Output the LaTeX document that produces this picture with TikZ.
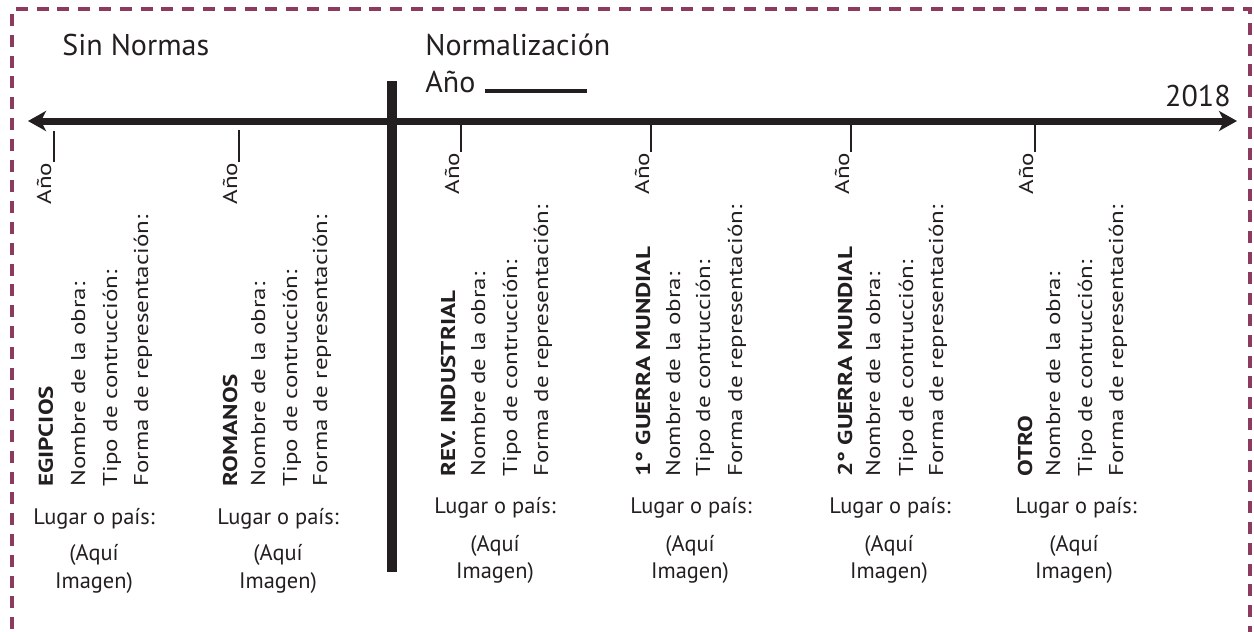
\documentclass[tikz,border=0pt]{standalone}
\usepackage{fontspec}
\setmainfont{PT Sans}
\usetikzlibrary{arrows.meta}
\definecolor{ink}{HTML}{231F20}
\definecolor{frame}{HTML}{8C3B5E}
\begin{document}
\begin{tikzpicture}[x=0.5pt,y=-0.5pt,
  every node/.style={inner sep=0pt,text=ink},
  head/.style={font=\fontsize{15}{18}\selectfont,anchor=base west},
  vtext/.style={rotate=90,xscale=1.25,anchor=base west,font=\fontsize{10}{12}\selectfont},
  vbold/.style={vtext,font=\fontsize{10}{12}\selectfont\bfseries},
  small/.style={font=\fontsize{11.2}{13}\selectfont,anchor=base},
  tick/.style={draw=ink,line width=1.4pt},
  border/.style={draw=frame,line width=1.8pt,dash pattern=on 6pt off 4.4pt},
  timeline/.style={draw=ink,line width=3.5pt,
    {Stealth[length=9pt,width=10pt,inset=2.5pt]}-{Stealth[length=9pt,width=10pt,inset=2.5pt]}},
  bar/.style={draw=ink,line width=5pt}
]
\useasboundingbox (0,0) rectangle (1254,632);
\clip (0,0) rectangle (1254,632);
\draw[border] (12,650) -- (12,9) -- (1250,9) -- (1250,650);

% headings
\node[head] (sin) at (62,55) {Sin Normas};
\node[head] (norm) at (425,55) {Normalización};
\node[head] (anoN) at (425,92) {Año};
\draw[draw=ink,line width=1.7pt] ([xshift=4.5pt]anoN.base east) ++(0,-1) -- ++(102,0);
\node[head,anchor=base east] (y2018) at (1231,106) {2018};

% timeline and divider
\coordinate (L) at (28,121);
\coordinate (R) at (1237,121);
\draw[timeline] (L) -- (R);
\coordinate (barT) at (392,81);
\coordinate (barB) at (392,572);
\draw[bar] (barT) -- (barB);

% column 1
\node[vtext] (a1) at (51,205) {Año};
\coordinate (t1) at (54,131);
\draw[tick] (t1) -- (t1 |- a1.east);
\node[vbold] (b1) at (53,487) {EGIPCIOS};
\node[vtext] (n1) at (85,487) {Nombre de la obra:};
\node[vtext] (c1) at (117,487) {Tipo de contrucción:};
\node[vtext] (f1) at (148,487) {Forma de representación:};
\node[small] (l1) at (94,524) {Lugar o país:};
\node[small] (q1) at (94,560) {(Aquí};
\node[small] (i1) at (94,588) {Imagen)};

% column 2
\node[vtext] (a2) at (237,205) {Año};
\coordinate (t2) at (239,130);
\draw[tick] (t2) -- (t2 |- a2.east);
\node[vbold] (b2) at (237,487) {ROMANOS};
\node[vtext] (n2) at (265,487) {Nombre de la obra:};
\node[vtext] (c2) at (297,487) {Tipo de contrucción:};
\node[vtext] (f2) at (327,487) {Forma de representación:};
\node[small] (l2) at (278,524) {Lugar o país:};
\node[small] (q2) at (278,560) {(Aquí};
\node[small] (i2) at (278,588) {Imagen)};

% column 3
\node[vtext] (a3) at (459,195) {Año};
\coordinate (t3) at (461,124);
\draw[tick] (t3) -- (t3 |- a3.east);
\node[vbold] (b3) at (455,477) {REV. INDUSTRIAL};
\node[vtext] (n3) at (485,477) {Nombre de la obra:};
\node[vtext] (c3) at (517,477) {Tipo de contrucción:};
\node[vtext] (f3) at (548,477) {Forma de representación:};
\node[small] (l3) at (495,513) {Lugar o país:};
\node[small] (q3) at (495,551) {(Aquí};
\node[small] (i3) at (495,578) {Imagen)};

% column 4
\node[vtext] (a4) at (649,195) {Año};
\coordinate (t4) at (651,124);
\draw[tick] (t4) -- (t4 |- a4.east);
\node[vbold] (b4) at (650,477) {1° GUERRA MUNDIAL};
\node[vtext] (n4) at (680,477) {Nombre de la obra:};
\node[vtext] (c4) at (710,477) {Tipo de contrucción:};
\node[vtext] (f4) at (742,477) {Forma de representación:};
\node[small] (l4) at (691,513) {Lugar o país:};
\node[small] (q4) at (690,551) {(Aquí};
\node[small] (i4) at (690,578) {Imagen)};

% column 5
\node[vtext] (a5) at (849,195) {Año};
\coordinate (t5) at (851,124);
\draw[tick] (t5) -- (t5 |- a5.east);
\node[vbold] (b5) at (852,477) {2° GUERRA MUNDIAL};
\node[vtext] (n5) at (880,477) {Nombre de la obra:};
\node[vtext] (c5) at (913,477) {Tipo de contrucción:};
\node[vtext] (f5) at (943,477) {Forma de representación:};
\node[small] (l5) at (890,513) {Lugar o país:};
\node[small] (q5) at (889,551) {(Aquí};
\node[small] (i5) at (889,578) {Imagen)};

% column 6
\node[vtext] (a6) at (1033,195) {Año};
\coordinate (t6) at (1035,124);
\draw[tick] (t6) -- (t6 |- a6.east);
\node[vbold] (b6) at (1032,477) {OTRO};
\node[vtext] (n6) at (1060,477) {Nombre de la obra:};
\node[vtext] (c6) at (1092,477) {Tipo de contrucción:};
\node[vtext] (f6) at (1123,477) {Forma de representación:};
\node[small] (l6) at (1076,513) {Lugar o país:};
\node[small] (q6) at (1074,551) {(Aquí};
\node[small] (i6) at (1074,578) {Imagen)};
\end{tikzpicture}
\end{document}
